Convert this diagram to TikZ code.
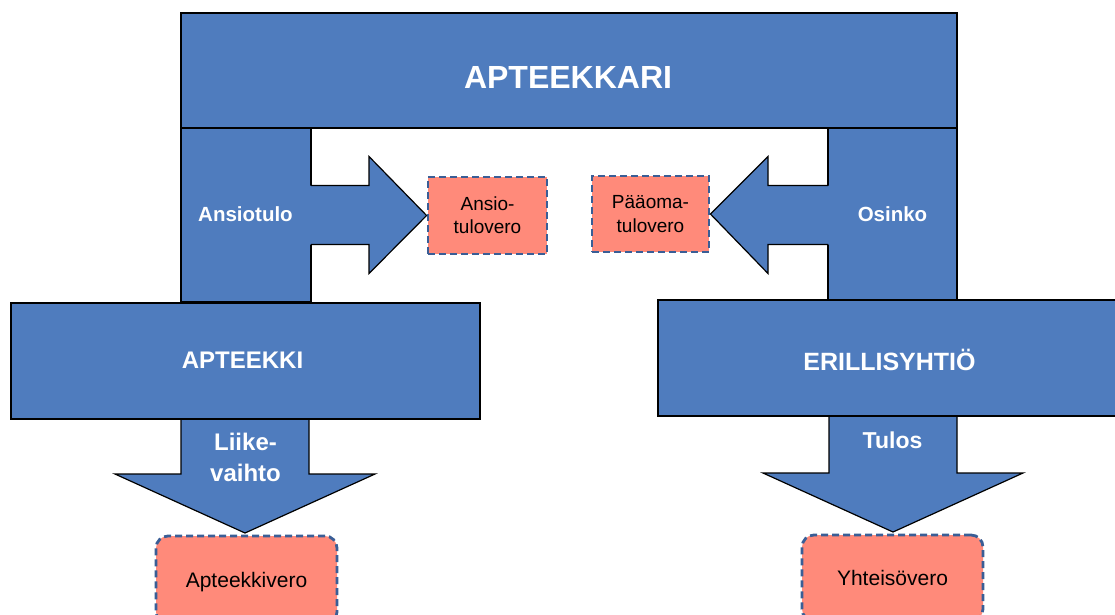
\documentclass[tikz,border=0pt]{standalone}
\usepackage{fontspec}
\setmainfont{Liberation Sans}
\usetikzlibrary{calc}

\definecolor{boxblue}{HTML}{4F7CBE}
\definecolor{salmon}{HTML}{FF8A7A}
\definecolor{dashblue}{HTML}{3A5E96}

\tikzset{
  bluebox/.style={fill=boxblue, draw=black, line width=1.2pt},
  taxbox/.style={fill=salmon, draw=dashblue, line width=2.8pt, dash pattern=on 7pt off 4pt,
    align=center, inner sep=0pt, text=black, text depth=0pt},
  whitetext/.style={text=white, inner sep=0pt, align=center},
}

\begin{document}
\begin{tikzpicture}[x=1pt,y=-1pt]

\useasboundingbox (0,0) rectangle (1115,614);
\clip (0,0) rectangle (1115,614);
\fill[white] (0,0) rectangle (1115,614);

% columns
\filldraw[bluebox] (181,128) rectangle (311,302);
\filldraw[bluebox] (828,128) rectangle (957,300);

% down arrows, under the boxes
\filldraw[bluebox] (181,410) -- (181,474) -- (115,474) -- (245,533) -- (375,474) -- (309,474) -- (309,410) -- cycle;
\filldraw[bluebox] (829,410) -- (829,473) -- (763,473) -- (893,532) -- (1023,473) -- (957,473) -- (957,410) -- cycle;

% boxes
\filldraw[bluebox] (181,13) rectangle (957,128);
\filldraw[bluebox] (11,303) rectangle (480,419);
\filldraw[bluebox] (658,300) rectangle (1125,416);

% tax boxes
\node[taxbox, minimum width=119pt, minimum height=77pt, font=\fontsize{19}{23}\selectfont] (ansiovero) at (487.5,215.5) {Ansio-\\tulovero};
\node[taxbox, minimum width=117pt, minimum height=76pt, font=\fontsize{19}{24}\selectfont] (paaomavero) at (650.5,214) {Pääoma-\\tulovero};
\node[taxbox, rounded corners=12pt, minimum width=181pt, minimum height=88pt, font=\fontsize{21}{25}\selectfont] (apteekkivero) at (246.5,580) {Apteekkivero};
\node[taxbox, rounded corners=12pt, minimum width=181pt, minimum height=86pt, font=\fontsize{21}{25}\selectfont] (yhteisovero) at (892.5,578) {Yhteisövero};

% side arrows
\fill[boxblue] (309,185.5) -- (369,185.5) -- (369,156.5) -- (ansiovero.west) -- (369,273.5) -- (369,244.5) -- (309,244.5) -- cycle;
\draw[line width=1.2pt] (311,185.5) -- (369,185.5) -- (369,156.5) -- (ansiovero.west) -- (369,273.5) -- (369,244.5) -- (311,244.5);
\fill[boxblue] (830,185.5) -- (768,185.5) -- (768,156.5) -- (paaomavero.east) -- (768,273.5) -- (768,244.5) -- (830,244.5) -- cycle;
\draw[line width=1.2pt] (828,185.5) -- (768,185.5) -- (768,156.5) -- (paaomavero.east) -- (768,273.5) -- (768,244.5) -- (828,244.5);

% labels
\node[whitetext, font=\bfseries\fontsize{32}{38}\selectfont] (apteekkari) at (568,77.5) {APTEEKKARI};
\node[whitetext, font=\bfseries\fontsize{20.5}{24}\selectfont] (ansiotulo) at (245.5,214.5) {Ansiotulo};
\node[whitetext, font=\bfseries\fontsize{20.5}{24}\selectfont] (osinko) at (892.5,214.5) {Osinko};
\node[whitetext, font=\bfseries\fontsize{24}{29}\selectfont] (apteekki) at (242.5,360.5) {APTEEKKI};
\node[whitetext, font=\bfseries\fontsize{25}{30}\selectfont] (erillisyhtio) at (889.5,360) {ERILLISYHTIÖ};
\node[whitetext, font=\bfseries\fontsize{24}{31}\selectfont] (liikevaihto) at (245.5,457) {Liike-\\vaihto};
\node[whitetext, font=\bfseries\fontsize{23}{28}\selectfont] (tulos) at (892.5,440) {Tulos};

\end{tikzpicture}
\end{document}
